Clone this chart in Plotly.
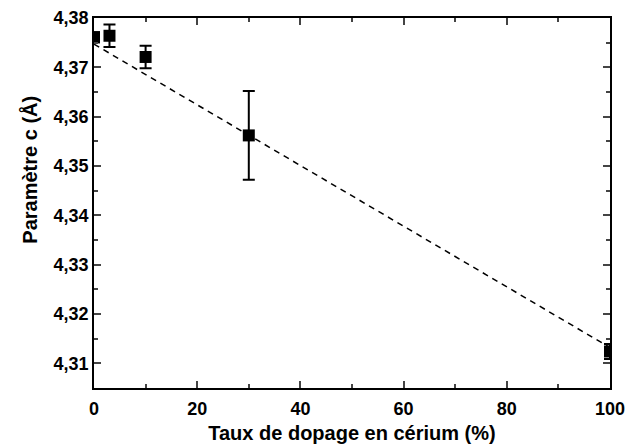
import plotly.graph_objects as go

# Taux de dopage (%) et paramètre c (Å)
dopage = [0, 3, 10, 30, 100]
param_c = [4.3761, 4.3764, 4.3721, 4.3562, 4.3124]
erreur = [0.0010, 0.0023, 0.0023, 0.0090, 0.0015]

# Ajustement linéaire (ligne pointillée)
fit_x = [0, 100]
fit_y = [4.3747, 4.3132]

# graduations
x_ticks = [0, 20, 40, 60, 80, 100]
x_labels = ["0", "20", "40", "60", "80", "100"]
y_ticks = [4.31, 4.32, 4.33, 4.34, 4.35, 4.36, 4.37, 4.38]
y_labels = ["4,31", "4,32", "4,33", "4,34", "4,35", "4,36", "4,37", "4,38"]

fig = go.Figure()

fig.add_trace(
    go.Scatter(
        x=fit_x,
        y=fit_y,
        mode="lines",
        line=dict(color="black", width=1.5, dash="6px,5px"),
        showlegend=False,
    )
)

fig.add_trace(
    go.Scatter(
        x=dopage,
        y=param_c,
        mode="markers",
        marker=dict(symbol="square", size=12, color="black"),
        error_y=dict(type="data", array=erreur, color="black", thickness=2, width=6),
        showlegend=False,
    )
)

police = "Liberation Sans, Arial, sans-serif"
tick_font = dict(size=18, family=police, color="black", weight="bold")

axe_commun = dict(
    ticks="inside",
    ticklen=7,
    tickwidth=1.5,
    showline=True,
    linecolor="black",
    linewidth=1.5,
    mirror="ticks",
    showgrid=False,
    zeroline=False,
    automargin=False,
    tickfont=tick_font,
)

# la page a une marge de 8 px : on compense dans la taille et les marges
fig.update_layout(
    width=629,
    height=440,
    margin=dict(l=86, r=27, t=10, b=60),
    plot_bgcolor="white",
    paper_bgcolor="white",
    font=dict(family=police, size=20, color="black"),
    xaxis=dict(
        range=[0, 100],
        tickvals=x_ticks,
        ticktext=["<b>%s</b>" % t for t in x_labels],
        ticklabelstandoff=4,
        minor=dict(ticks="inside", dtick=10, tick0=0, ticklen=4, tickwidth=1.5),
        title=dict(
            text="<b>Taux de dopage en cérium (%)</b>",
            font=dict(size=20),
            standoff=8,
        ),
        **axe_commun,
    ),
    yaxis=dict(
        range=[4.305, 4.38],
        tickvals=y_ticks,
        ticktext=["<b>%s</b>" % t for t in y_labels],
        minor=dict(ticks="inside", dtick=0.005, tick0=4.30, ticklen=4, tickwidth=1.5),
        **axe_commun,
    ),
)

# titre de l'axe y : décalé vers le haut comme sur l'original
fig.add_annotation(
    text="<b>Paramètre c (Å)</b>",
    textangle=-90,
    xref="paper",
    yref="paper",
    x=0,
    xshift=-64,
    y=0.59,
    xanchor="center",
    yanchor="middle",
    showarrow=False,
    font=dict(size=20),
)

fig.write_html("out.html")
